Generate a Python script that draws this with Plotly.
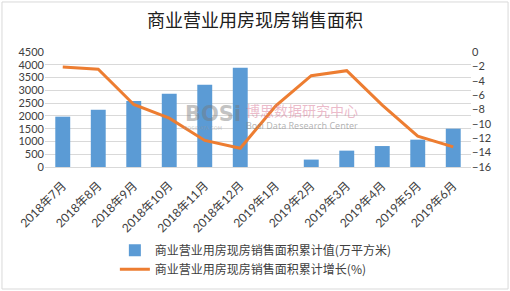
import plotly.graph_objects as go

categories = ["2018年7月", "2018年8月", "2018年9月", "2018年10月", "2018年11月", "2018年12月",
              "2019年1月", "2019年2月", "2019年3月", "2019年4月", "2019年5月", "2019年6月"]
area_values = [1970, 2240, 2580, 2870, 3220, 3880, None, 290, 640, 820, 1070, 1500]
growth_values = [-2.1, -2.4, -7.3, -9.2, -12.3, -13.4, -7.5, -3.3, -2.6, -7.4, -11.7, -13.2]

bar_name = "商业营业用房现房销售面积累计值(万平方米)"
line_name = "商业营业用房现房销售面积累计增长(%)"
title_text = "商业营业用房现房销售面积"

FONT = "Lato, 'Noto Sans CJK SC', sans-serif"
CJK = "'Noto Sans CJK SC', sans-serif"

fig = go.Figure()
fig.add_trace(go.Bar(x=categories, y=area_values, name=bar_name, legendgroup="a",
                     marker=dict(color="#5B9BD5", line=dict(width=0)), yaxis="y"))
fig.add_trace(go.Scatter(x=categories, y=growth_values, name=line_name, mode="lines",
                         legendgroup="b",
                         line=dict(color="#ED7D31", width=3), yaxis="y2"))

fig.update_layout(
    width=510, height=291,
    margin=dict(l=45, r=39, t=52, b=124),
    paper_bgcolor="white", plot_bgcolor="white",
    font=dict(family=FONT, size=11, color="#404040"),
    title=dict(text=title_text, x=0.5, xanchor="center", y=0.93, yanchor="middle",
               font=dict(family=CJK, size=18, color="#202020")),
    bargap=0.58,
    showlegend=True,
    legend=dict(x=0.164, y=0.19, yref="container", xanchor="left", yanchor="top",
                orientation="v",
                font=dict(family=CJK, size=12, color="#404040"),
                traceorder="grouped", tracegroupgap=0, itemwidth=30),
    xaxis=dict(tickangle=-45, showgrid=False, showline=True, linecolor="#D9D9D9",
               ticks="", tickfont=dict(family=FONT, size=12), ticklabelstandoff=6,
               automargin=False),
    yaxis=dict(range=[0, 4500], dtick=500, showgrid=True, gridcolor="#D9D9D9",
               zeroline=False, showline=False, tickfont=dict(size=11), automargin=False),
    yaxis2=dict(range=[-16, 0], dtick=2, overlaying="y", side="right", showgrid=False,
                zeroline=False, showline=False, tickfont=dict(size=11), automargin=False),
)

# outer chart border
fig.add_shape(type="rect", xref="paper", yref="paper",
              x0=-0.101, x1=1.087, y0=-1.061, y1=1.435,
              line=dict(color="#D9D9D9", width=1), fillcolor="rgba(0,0,0,0)", layer="below")

# watermark
fig.add_annotation(x=0.395, y=0.46, xref="paper", yref="paper",
                   text="<b>BOSi</b>", showarrow=False,
                   font=dict(family="'DejaVu Sans', sans-serif", size=21, color="rgba(120,120,120,0.45)"))
fig.add_annotation(x=0.37, y=0.30, xref="paper", yref="paper",
                   text="BOSIDATA.COM", showarrow=False,
                   font=dict(family="'DejaVu Sans', sans-serif", size=5, color="rgba(150,150,150,0.5)"))
fig.add_annotation(x=0.603, y=0.50, xref="paper", yref="paper",
                   text="博思数据研究中心", showarrow=False,
                   font=dict(family=CJK, size=14, color="rgba(215,120,150,0.5)"))
fig.add_annotation(x=0.603, y=0.29, xref="paper", yref="paper",
                   text="Bosi Data Research Center", showarrow=False,
                   font=dict(family="'Noto Sans', sans-serif", size=9, color="rgba(130,130,130,0.6)"))

fig.write_html("out.html")
